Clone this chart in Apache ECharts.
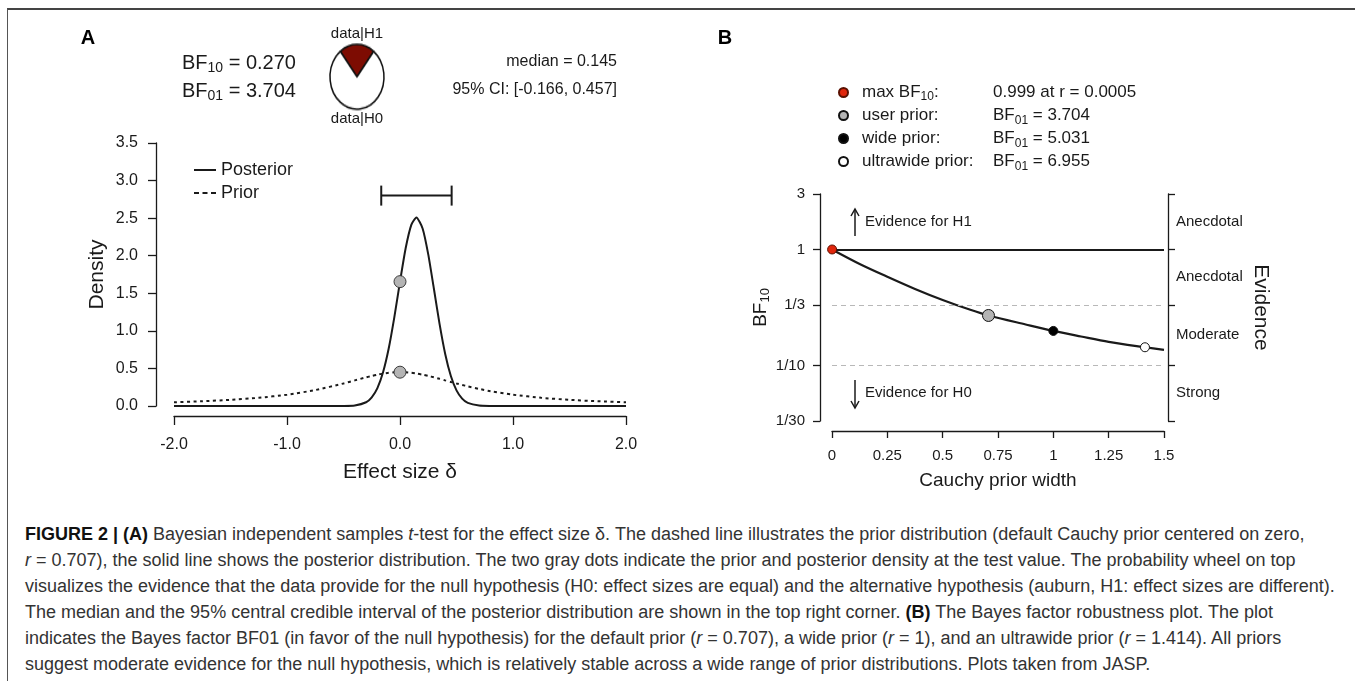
<!DOCTYPE html>
<html>
<head>
<meta charset="utf-8">
<script src="https://cdn.jsdelivr.net/npm/echarts@6/dist/echarts.min.js"></script>
<style>
html,body{margin:0;padding:0;background:#fff;width:1355px;height:681px;overflow:hidden;}
#frame{position:absolute;left:7px;top:8px;width:1400px;height:720px;border-left:1px solid #555;border-top:2px solid #444;box-sizing:border-box;}
#chart{position:absolute;left:0;top:0;width:1355px;height:500px;}
#wheel{position:absolute;left:328px;top:42px;width:58px;height:58px;transform-origin:0 0;transform:scaleY(1.2);}
#caption{position:absolute;left:25px;top:521px;font-family:'Liberation Sans',Arial,sans-serif;font-size:18px;line-height:26px;color:#333;white-space:nowrap;}
#caption b{color:#111;}
</style>
</head>
<body>
<div id="frame"></div>
<div id="chart"></div>
<div id="wheel"></div>
<div id="caption">
<b>FIGURE 2 | (A)</b> Bayesian independent samples <i>t</i>-test for the effect size δ. The dashed line illustrates the prior distribution (default Cauchy prior centered on zero,<br>
<i>r</i> = 0.707), the solid line shows the posterior distribution. The two gray dots indicate the prior and posterior density at the test value. The probability wheel on top<br>
visualizes the evidence that the data provide for the null hypothesis (H0: effect sizes are equal) and the alternative hypothesis (auburn, H1: effect sizes are different).<br>
The median and the 95% central credible interval of the posterior distribution are shown in the top right corner. <b>(B)</b> The Bayes factor robustness plot. The plot<br>
indicates the Bayes factor BF01 (in favor of the null hypothesis) for the default prior (<i>r</i> = 0.707), a wide prior (<i>r</i> = 1), and an ultrawide prior (<i>r</i> = 1.414). All priors<br>
suggest moderate evidence for the null hypothesis, which is relatively stable across a wide range of prior distributions. Plots taken from JASP.
</div>
<script>
// ---------- Panel A data ----------
const effectX   = [-2.0,-1.75,-1.5,-1.25,-1.0,-0.75,-0.5,-0.4,-0.3,-0.25,-0.2,-0.15,-0.1,-0.05,0.0,0.05,0.1,0.145,0.2,0.25,0.3,0.35,0.4,0.45,0.5,0.55,0.6,0.7,0.8,1.0,1.25,1.5,1.75,2.0];
const posteriorY = [0,0,0,0,0,0,0.001,0.007,0.05,0.115,0.238,0.449,0.765,1.183,1.655,2.099,2.411,2.509,2.363,2.018,1.56,1.093,0.693,0.399,0.208,0.098,0.042,0.006,0.001,0,0,0,0,0];
const priorY     = [0.05,0.0632,0.0819,0.109,0.15,0.212,0.30,0.341,0.3815,0.40,0.4169,0.4308,0.4414,0.448,0.450,0.448,0.4414,0.432,0.4169,0.40,0.3815,0.3616,0.341,0.3204,0.30,0.2805,0.2617,0.2274,0.1975,0.15,0.109,0.0819,0.0632,0.05];
const testValue = 0;
const posteriorAtTest = 1.655;
const priorAtTest = 0.450;
const ciLow = -0.166, ciHigh = 0.457, ciBarLevel = 2.8;
const medianValue = 0.145;
const bf10 = 0.270, bf01 = 3.704;
const wheelNames = ['data|H1','data|H0'];
const wheelValues = [0.270, 1];
const legendA = ['Posterior','Prior'];

// ---------- Panel B data ----------
const priorWidth = [0, 0.125, 0.25, 0.375, 0.5, 0.625, 0.707, 0.875, 1.0, 1.125, 1.25, 1.414, 1.5];
const robustBF10 = [1.0, 0.750, 0.582, 0.457, 0.367, 0.302, 0.270, 0.226, 0.1988, 0.178, 0.160, 0.1438, 0.1365];
const pointNames  = ['max BF10:', 'user prior:', 'wide prior:', 'ultrawide prior:'];
const pointWidth  = [0.0005, 0.707, 1.0, 1.414];
const pointBF10   = [0.999, 1/3.704, 1/5.031, 1/6.955];
const pointText   = ['0.999 at r = 0.0005', 'BF{sub|01} = 3.704', 'BF{sub|01} = 5.031', 'BF{sub|01} = 6.955'];
const bfTicks      = [3, 1, 1/3, 1/10, 1/30];
const bfTickLabels = ['3', '1', '1/3', '1/10', '1/30'];
const evidenceLabels = ['Anecdotal', 'Anecdotal', 'Moderate', 'Strong'];

// ---------- styles ----------
const FONT = 'Liberation Sans, Arial, Helvetica, sans-serif';
const INK = '#1a1a1a';
const pointFill = ['#e0260c', '#b4b4b4', '#000000', '#ffffff'];
const pointSize = [9, 12, 9, 9];
const wheelColors = ['#7d0c02', '#ffffff'];
const legendIcons = ['path://M0,0h22v2h-22z', 'path://M0,0h5v2h-5z M8.5,0h5v2h-5z M17,0h5v2h-5z'];

const L = Math.log10;
const bfTickLog = bfTicks.map(L);
const evidMid = evidenceLabels.map((_, i) => (bfTickLog[i] + bfTickLog[i + 1]) / 2);

function labelFor(v, vals, labels) {
  for (let i = 0; i < vals.length; i++) if (Math.abs(vals[i] - v) < 1e-6) return labels[i];
  return '';
}

const axisLineStyle = {color: INK, width: 1.3};

const chart = echarts.init(document.getElementById('chart'));
chart.setOption({
  animation: false,
  textStyle: {fontFamily: FONT, color: INK},
  grid: [
    {left: 174, top: 143, width: 452, height: 263},
    {left: 832, top: 194, width: 332, height: 227}
  ],
  xAxis: [
    {gridIndex: 0, type: 'value', min: -2, max: 2, interval: 1, offset: 10,
     axisLine: {onZero: false, lineStyle: axisLineStyle},
     axisTick: {length: 9, lineStyle: axisLineStyle},
     axisLabel: {margin: 21, fontSize: 16, color: INK, fontFamily: FONT, formatter: v => v.toFixed(1)},
     splitLine: {show: false},
     name: 'Effect size δ', nameLocation: 'middle', nameGap: 46,
     nameTextStyle: {fontSize: 21, color: INK, fontFamily: FONT}},
    {gridIndex: 1, type: 'value', min: 0, max: 1.5, interval: 0.25, offset: 10,
     axisLine: {onZero: false, lineStyle: axisLineStyle},
     axisTick: {length: 7, lineStyle: axisLineStyle},
     axisLabel: {margin: 17, fontSize: 15, color: INK, fontFamily: FONT},
     splitLine: {show: false},
     name: 'Cauchy prior width', nameLocation: 'middle', nameGap: 40,
     nameTextStyle: {fontSize: 19, color: INK, fontFamily: FONT}}
  ],
  yAxis: [
    {gridIndex: 0, type: 'value', min: 0, max: 3.5, interval: 0.5, offset: 18,
     axisLine: {show: true, onZero: false, lineStyle: axisLineStyle},
     axisTick: {show: true, length: 8, lineStyle: axisLineStyle},
     axisLabel: {margin: 18, fontSize: 16, color: INK, fontFamily: FONT, formatter: v => v.toFixed(1)},
     splitLine: {show: false},
     name: 'Density', nameLocation: 'middle', nameGap: 48,
     nameTextStyle: {fontSize: 21, color: INK, fontFamily: FONT}},
    {gridIndex: 1, type: 'value', min: L(1/30), max: L(3), offset: 12,
     axisLine: {show: true, onZero: false, lineStyle: axisLineStyle},
     axisTick: {show: true, length: 7, lineStyle: axisLineStyle, customValues: bfTickLog},
     axisLabel: {margin: 15, fontSize: 15, color: INK, fontFamily: FONT, customValues: bfTickLog,
                 formatter: v => labelFor(v, bfTickLog, bfTickLabels)},
     splitLine: {show: false},
     name: 'BF{sub|10}', nameLocation: 'middle', nameGap: 46,
     nameTextStyle: {fontSize: 19, color: INK, fontFamily: FONT,
       rich: {sub: {fontSize: 13, fontFamily: FONT, color: INK, padding: [9, 0, 0, 0]}}}},
    {gridIndex: 1, type: 'value', position: 'right', min: L(1/30), max: L(3), offset: 4,
     axisLine: {show: true, onZero: false, lineStyle: axisLineStyle},
     axisTick: {show: true, length: 7, lineStyle: axisLineStyle, customValues: bfTickLog},
     axisLabel: {margin: 8, fontSize: 15, color: INK, fontFamily: FONT, customValues: evidMid,
                 formatter: v => labelFor(v, evidMid, evidenceLabels)},
     splitLine: {show: false},
     name: 'Evidence', nameLocation: 'middle', nameGap: 82, nameRotate: -90,
     nameTextStyle: {fontSize: 21, color: INK, fontFamily: FONT}}
  ],
  legend: [
    {data: legendA.map((n, i) => ({name: n, icon: legendIcons[i]})),
     orient: 'vertical', left: 189, top: 155, itemWidth: 22, itemHeight: 2, itemGap: 3,
     selectedMode: false, itemStyle: {color: INK, borderWidth: 0},
     textStyle: {fontSize: 18, color: INK, fontFamily: FONT, lineHeight: 20}},
    {data: pointNames, orient: 'vertical', left: 833, top: 76, itemWidth: 27, itemHeight: 9, itemGap: 0,
     icon: 'circle', selectedMode: false,
     formatter: n => n === 'max BF10:' ? 'max BF{sub|10}:' : n,
     textStyle: {fontSize: 17, color: INK, fontFamily: FONT, lineHeight: 23,
       rich: {sub: {fontSize: 12, fontFamily: FONT, color: INK, lineHeight: 14, padding: [8, 0, 0, 0]}}}}
  ],
  series: [
    {name: 'Posterior', type: 'line', xAxisIndex: 0, yAxisIndex: 0, symbol: 'none', smooth: 0.2,
     data: effectX.map((x, i) => [x, posteriorY[i]]),
     lineStyle: {color: INK, width: 2}, itemStyle: {color: INK}, z: 3},
    {name: 'Prior', type: 'line', xAxisIndex: 0, yAxisIndex: 0, symbol: 'none', smooth: 0.2,
     data: effectX.map((x, i) => [x, priorY[i]]),
     lineStyle: {color: INK, width: 2, type: [3, 3.5]}, itemStyle: {color: INK}, z: 3},
    {name: 'test', type: 'scatter', xAxisIndex: 0, yAxisIndex: 0, symbolSize: 12,
     data: [[testValue, posteriorAtTest], [testValue, priorAtTest]],
     itemStyle: {color: '#b4b4b4', borderColor: '#3a3a3a', borderWidth: 1, opacity: 1}, z: 5},
    {name: 'CI', type: 'custom', xAxisIndex: 0, yAxisIndex: 0,
     encode: {x: [0, 1], y: 2},
     data: [[ciLow, ciHigh, ciBarLevel]],
     renderItem: (params, api) => {
       const p1 = api.coord([api.value(0), api.value(2)]);
       const p2 = api.coord([api.value(1), api.value(2)]);
       const h = 10, st = {stroke: INK, lineWidth: 2};
       return {type: 'group', children: [
         {type: 'line', shape: {x1: p1[0], y1: p1[1], x2: p2[0], y2: p2[1]}, style: st},
         {type: 'line', shape: {x1: p1[0], y1: p1[1] - h, x2: p1[0], y2: p1[1] + h}, style: st},
         {type: 'line', shape: {x1: p2[0], y1: p2[1] - h, x2: p2[0], y2: p2[1] + h}, style: st}
       ]};
     }},
    {name: 'robustness', type: 'line', xAxisIndex: 1, yAxisIndex: 1, symbol: 'none', smooth: 0.3,
     data: priorWidth.map((x, i) => [x, L(robustBF10[i])]),
     lineStyle: {color: INK, width: 2.2}, z: 3,
     markLine: {silent: true, symbol: 'none', label: {show: false}, animation: false,
       data: [
         ...[3, 1/3, 1/10, 1/30].map(v => ({yAxis: L(v), lineStyle: {type: [5, 4], color: '#b8b8b8', width: 1.2}})),
         {yAxis: L(1), lineStyle: {type: 'solid', color: INK, width: 2}}
       ]}},
    ...pointNames.map((n, i) => ({
      name: n, type: 'scatter', xAxisIndex: 1, yAxisIndex: 1, symbolSize: pointSize[i],
      data: [[pointWidth[i], L(pointBF10[i])]],
      itemStyle: {color: pointFill[i], borderColor: i === 0 ? '#5a1000' : '#111', borderWidth: 1, opacity: 1}, z: 6
    }))
  ],
  graphic: [
    {type: 'text', x: 88, y: 38, style: {text: 'A', fontSize: 20, fontWeight: 'bold', fontFamily: FONT, fill: '#000', align: 'center', verticalAlign: 'middle'}},
    {type: 'text', x: 725, y: 38, style: {text: 'B', fontSize: 20, fontWeight: 'bold', fontFamily: FONT, fill: '#000', align: 'center', verticalAlign: 'middle'}},
    {type: 'text', x: 182, y: 63, style: {text: 'BF{sub|10} = ' + bf10.toFixed(3), fontSize: 20, fontFamily: FONT, fill: INK, verticalAlign: 'middle',
      rich: {sub: {fontSize: 14, fontFamily: FONT, fill: INK, padding: [10, 0, 0, 0]}}}},
    {type: 'text', x: 182, y: 91, style: {text: 'BF{sub|01} = ' + bf01.toFixed(3), fontSize: 20, fontFamily: FONT, fill: INK, verticalAlign: 'middle',
      rich: {sub: {fontSize: 14, fontFamily: FONT, fill: INK, padding: [10, 0, 0, 0]}}}},
    {type: 'text', x: 357, y: 34, style: {text: wheelNames[0], fontSize: 15, fontFamily: FONT, fill: INK, align: 'center', verticalAlign: 'middle'}},
    {type: 'text', x: 357, y: 119, style: {text: wheelNames[1], fontSize: 15, fontFamily: FONT, fill: INK, align: 'center', verticalAlign: 'middle'}},
    {type: 'text', x: 617, y: 62, style: {text: 'median = ' + medianValue.toFixed(3), fontSize: 16, fontFamily: FONT, fill: INK, align: 'right', verticalAlign: 'middle'}},
    {type: 'text', x: 617, y: 90, style: {text: '95% CI: [' + ciLow.toFixed(3) + ', ' + ciHigh.toFixed(3) + ']', fontSize: 16, fontFamily: FONT, fill: INK, align: 'right', verticalAlign: 'middle'}},
    ...pointText.map((t, i) => ({type: 'text', x: 993, y: 92 + i * 23, style: {text: t, fontSize: 17, fontFamily: FONT, fill: INK, verticalAlign: 'middle',
      rich: {sub: {fontSize: 12, fontFamily: FONT, fill: INK, padding: [11, 0, 0, 0]}}}})),
    // evidence annotations
    {type: 'line', shape: {x1: 855, y1: 236, x2: 855, y2: 209}, style: {stroke: INK, lineWidth: 1.5}},
    {type: 'polyline', shape: {points: [[851, 216], [855, 209], [859, 216]]}, style: {stroke: INK, lineWidth: 1.5, fill: null}},
    {type: 'text', x: 865, y: 222, style: {text: 'Evidence for H1', fontSize: 15, fontFamily: FONT, fill: INK, verticalAlign: 'middle'}},
    {type: 'line', shape: {x1: 855, y1: 380, x2: 855, y2: 408}, style: {stroke: INK, lineWidth: 1.5}},
    {type: 'polyline', shape: {points: [[851, 401], [855, 408], [859, 401]]}, style: {stroke: INK, lineWidth: 1.5, fill: null}},
    {type: 'text', x: 865, y: 393, style: {text: 'Evidence for H0', fontSize: 15, fontFamily: FONT, fill: INK, verticalAlign: 'middle'}}
  ]
});

const wheel = echarts.init(document.getElementById('wheel'));
const share = wheelValues[0] / (wheelValues[0] + wheelValues[1]);
wheel.setOption({
  animation: false,
  series: [{
    type: 'pie', radius: 27, center: ['50%', '50%'], silent: true,
    startAngle: 90 + 180 * share, clockwise: true,
    label: {show: false}, labelLine: {show: false}, emphasis: {disabled: true},
    itemStyle: {borderColor: '#111', borderWidth: 1.5},
    data: wheelNames.map((n, i) => ({name: n, value: wheelValues[i], itemStyle: {color: wheelColors[i]}}))
  }]
});
</script>
</body>
</html>
